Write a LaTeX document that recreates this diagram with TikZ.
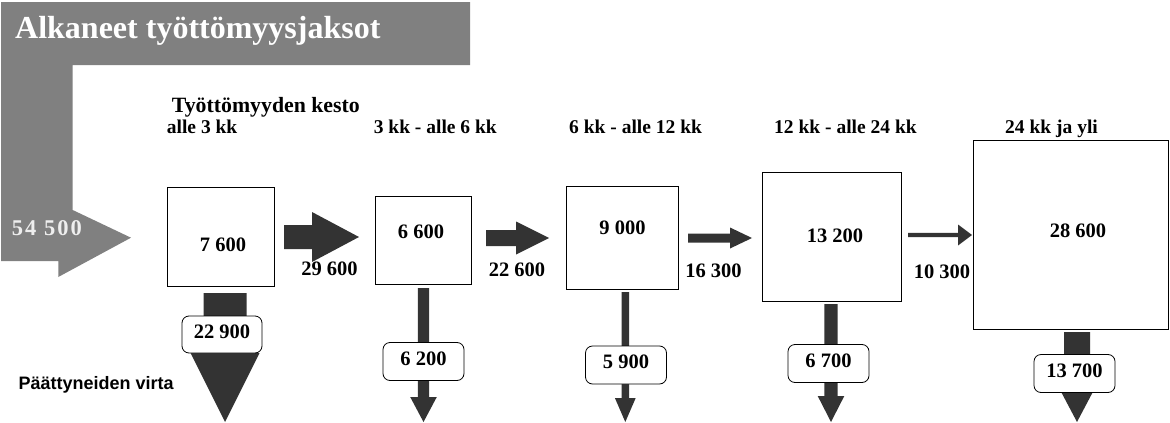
\documentclass[tikz,border=0pt]{standalone}
\usepackage{fontspec}
\setmainfont{Liberation Serif}
\newfontfamily\sansbf{Liberation Sans}
\usepackage{tikz}
\definecolor{bannergray}{RGB}{128,128,128}
\definecolor{flowdark}{RGB}{51,51,51}
\definecolor{totalwhite}{RGB}{238,238,238}
\newcommand{\numfont}{\fontsize{20.5}{22}\selectfont\bfseries}
\newcommand{\headfont}{\fontsize{19.5}{21}\selectfont\bfseries}

\begin{document}
\begin{tikzpicture}[x=1pt,y=-1pt,
  stockbox/.style={draw,line width=1pt,fill=white,inner sep=0pt},
  exitbox/.style={draw,line width=0.8pt,fill=white,rounded corners=7pt,
    minimum width=81pt,minimum height=38pt,inner sep=0pt,text depth=6pt,font=\numfont},
  num/.style={font=\numfont,inner sep=0pt},
  head/.style={font=\headfont,anchor=base west,inner sep=0pt}]
  \useasboundingbox (0,0) rectangle (1170,423);

  %incoming flow
  \fill[bannergray] (1,2) -- (470,2) -- (470,65) -- (72.7,65) -- (72.7,210)
      -- (131,237.7) -- (58.3,277) -- (58.3,261) -- (1,261) -- cycle;
  \node[anchor=base west,inner sep=0pt,text=white,font=\fontsize{32}{35}\selectfont\bfseries]
      (title) at (15,38) {Alkaneet työttömyysjaksot};
  \node[anchor=base west,inner sep=0pt,text=totalwhite,
      font=\fontsize{22.5}{24}\selectfont\bfseries\addfontfeature{LetterSpace=9}]
      (total) at (11.7,235) {54 500};

  %headings
  \node[head,font=\fontsize{21.8}{23}\selectfont\bfseries] (kesto) at (171.7,112.5) {Työttömyyden kesto};
  \node[head] (r1) at (166.7,133) {alle 3 kk};
  \node[head] (r2) at (373.6,133) {3 kk - alle 6 kk};
  \node[head] (r3) at (569,133) {6 kk - alle 12 kk};
  \node[head] (r4) at (774,133) {12 kk - alle 24 kk};
  \node[head] (r5) at (1005,133) {24 kk ja yli};

  %stocks
  \node[stockbox,minimum width=107pt,minimum height=99pt] (b1) at (220.5,236.5) {};
  \node[stockbox,minimum width=96pt,minimum height=88pt] (b2) at (423,240) {};
  \node[stockbox,minimum width=112pt,minimum height=103pt] (b3) at (622,237.5) {};
  \node[stockbox,minimum width=139pt,minimum height=129pt] (b4) at (831.5,236.5) {};
  \node[stockbox,minimum width=195pt,minimum height=189pt] (b5) at (1070.5,234.5) {};
  \node[num] (s1) at (223,245) {7 600};
  \node[num] (s2) at (421,231.3) {6 600};
  \node[num] (s3) at (622.5,227.5) {9 000};
  \node[num] (s4) at (835,236) {13 200};
  \node[num] (s5) at (1078,230.5) {28 600};

  %flows to the next duration
  \foreach \xa/\xb/\xc/\yc/\s/\h in {284/312/359/237/12/25, 486/516/549/238/8/16.5,
      688/730/752/238/4.5/10.5, 908/958/972/235/2.2/10.5} {
    \fill[flowdark] (\xa,\yc-\s) -- (\xb,\yc-\s) -- (\xb,\yc-\h) -- (\xc,\yc)
        -- (\xb,\yc+\h) -- (\xb,\yc+\s) -- (\xa,\yc+\s) -- cycle;
  }
  \node[num] (f1) at (329.5,269) {29 600};
  \node[num] (f2) at (517,270) {22 600};
  \node[num] (f3) at (713.5,271) {16 300};
  \node[num] (f4) at (942,271.7) {10 300};

  %flows out
  \foreach \xc/\ya/\yb/\s/\h in {225/293/353/21.5/34.5, 423.5/288/397/5.7/13.3,
      625.3/292/398/3.7/10.4, 831/304/396/6.7/13.3, 1077/332/393/13/15.3} {
    \fill[flowdark] (\xc-\s,\ya) -- (\xc+\s,\ya) -- (\xc+\s,\yb) -- (\xc+\h,\yb)
        -- (\xc,422) -- (\xc-\h,\yb) -- (\xc-\s,\yb) -- cycle;
  }
  \node[exitbox,minimum width=80pt,minimum height=37pt] (e1) at (222,334.5) {22 900};
  \node[exitbox] (e2) at (423.5,361.5) {6 200};
  \node[exitbox] (e3) at (626,365) {5 900};
  \node[exitbox] (e4) at (828.5,363.5) {6 700};
  \node[exitbox] (e5) at (1074.5,373.5) {13 700};
  \node[anchor=base west,inner sep=0pt,font=\sansbf\fontsize{18}{20}\selectfont\bfseries]
      (virta) at (18.3,389.3) {Päättyneiden virta};
\end{tikzpicture}
\end{document}
